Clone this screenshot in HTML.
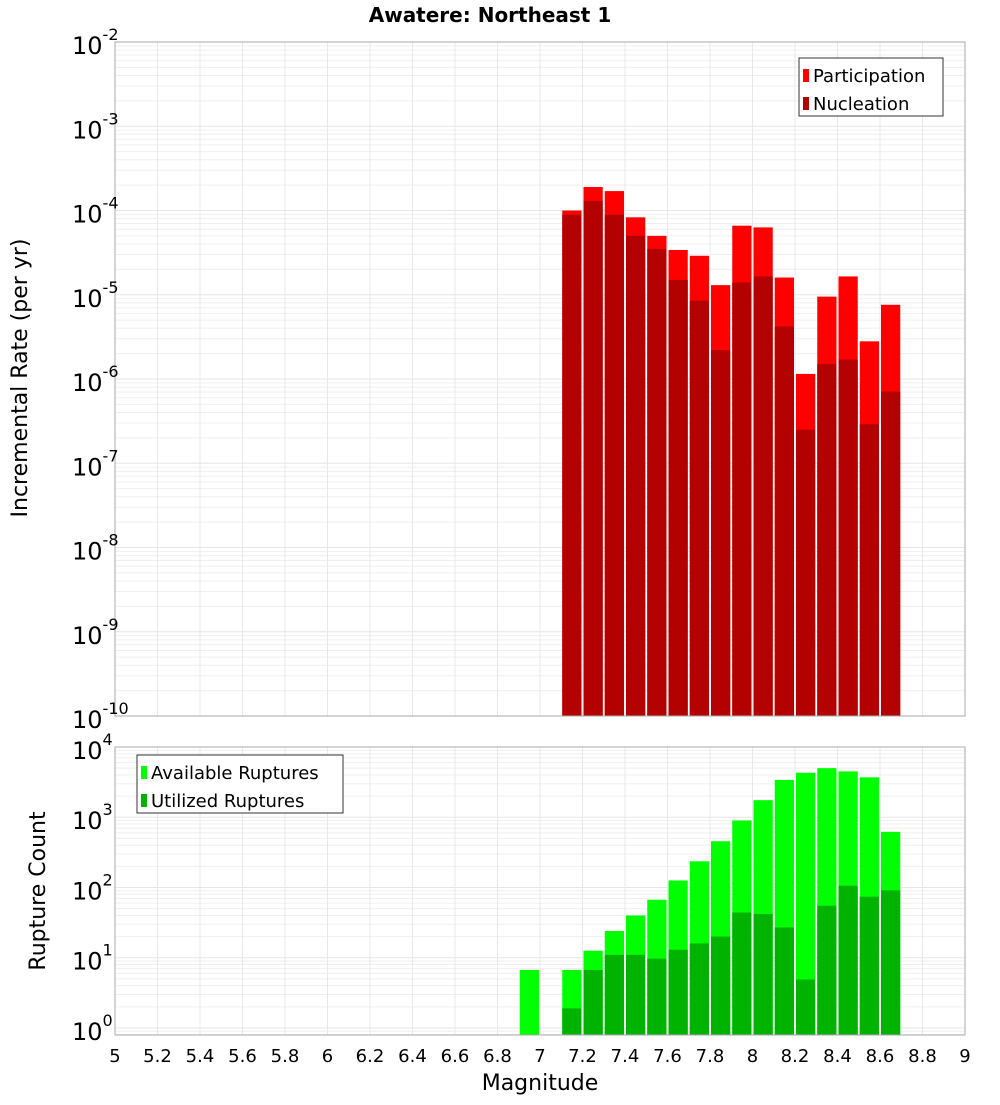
<!DOCTYPE html>
<html><head><meta charset="utf-8"><style>
body{margin:0;background:#fff;}
svg text{font-family:"DejaVu Sans","Liberation Sans",sans-serif;}
</style></head><body>
<svg id="chart" width="1000" height="1100" viewBox="0 0 1000 1100" xmlns="http://www.w3.org/2000/svg">
<text x="490" y="22" text-anchor="middle" font-size="20" font-weight="bold">Awatere: Northeast 1</text>
<g id="top"></g><g id="bot"></g>
<text transform="translate(27,378) rotate(-90)" text-anchor="middle" font-size="22">Incremental Rate (per yr)</text>
<text transform="translate(45,891) rotate(-90)" text-anchor="middle" font-size="22">Rupture Count</text>
<text x="540" y="1090" text-anchor="middle" font-size="22">Magnitude</text>
</svg>
<script>
const binStarts=[7.1,7.2,7.3,7.4,7.5,7.6,7.7,7.8,7.9,8.0,8.1,8.2,8.3,8.4,8.5,8.6];
const participation=[1.0e-4,1.9e-4,1.7e-4,8.3e-5,5e-5,3.4e-5,2.9e-5,1.3e-5,6.6e-5,6.3e-5,1.6e-5,1.15e-6,9.5e-6,1.65e-5,2.8e-6,7.6e-6];
const nucleation=[8.9e-5,1.3e-4,8.9e-5,5e-5,3.5e-5,1.5e-5,8.5e-6,2.2e-6,1.4e-5,1.65e-5,4.2e-6,2.5e-7,1.5e-6,1.7e-6,2.9e-7,7.1e-7];
const countBins=[6.9,7.1,7.2,7.3,7.4,7.5,7.6,7.7,7.8,7.9,8.0,8.1,8.2,8.3,8.4,8.5,8.6];
const available=[6.7,6.7,12.6,24,40,67,126,236,456,900,1750,3400,4300,5000,4500,3700,620];
const utilized=[0,1.9,6.7,11,11,9.7,13,16,20,44,42,27,4.9,55,106,74,91];
const xTicks=[5,5.2,5.4,5.6,5.8,6,6.2,6.4,6.6,6.8,7,7.2,7.4,7.6,7.8,8,8.2,8.4,8.6,8.8,9];
const topExps=[-2,-3,-4,-5,-6,-7,-8,-9,-10];
const botExps=[0,1,2,3,4];

const NS="http://www.w3.org/2000/svg";
const L=115,R=965;
const xs=m=>L+(m-5)/4*(R-L);
function mk(par,tag,attrs){const e=document.createElementNS(NS,tag);for(const k in attrs)e.setAttribute(k,attrs[k]);par.appendChild(e);return e;}
function panel(g,top,bot,lmin,lmax){
  const ys=v=>bot-(Math.log10(v)-lmin)/(lmax-lmin)*(bot-top);
  mk(g,'rect',{x:L,y:top,width:R-L,height:bot-top,fill:'#fff'});
  for(let d=Math.floor(lmin);d<lmax;d++)for(let k=1;k<10;k++){const v=k*Math.pow(10,d);const lv=Math.log10(v);if(lv<lmin||lv>lmax)continue;
    const y=ys(v);const ln=mk(g,'line',{x1:L,x2:R,y1:y,y2:y,stroke:k==1?'#e6e6e6':'#efefef','stroke-width':1});
    }
  xTicks.forEach(t=>{const x=xs(t);const ln=mk(g,'line',{x1:x,x2:x,y1:top,y2:bot,stroke:'#e8e8e8','stroke-width':1});
    });
  return ys;
}
function frame(g,top,bot){const r=mk(g,'rect',{x:L,y:top,width:R-L,height:bot-top,fill:'none',stroke:'#aaa','stroke-width':1});
  }
function ylab(g,y,e){const t=mk(g,'text',{x:72,y:y+12,'font-size':24});
  t.textContent='10';const s=mk(t,'tspan',{dy:-14,'font-size':16});s.textContent=String(e);}
function bar(g,m,v,ys,bot,fill,name){if(v<=0)return;const x0=xs(m),x1=xs(m+0.1);const y=ys(v);
  const r=mk(g,'rect',{x:x0+1,y:y,width:x1-x0-2,height:bot-y,fill:fill});}
function legend(g,x,y,w,items,name){const lg=mk(g,'g',{});
  mk(lg,'rect',{x:x,y:y,width:w,height:58,fill:'#fff',stroke:'#333','stroke-width':1});
  items.forEach((it,i)=>{mk(lg,'rect',{x:x+4,y:y+11+i*28,width:6,height:13,fill:it[1]});
    const t=mk(lg,'text',{x:x+14,y:y+24+i*28,'font-size':18});t.textContent=it[0];});}

// top panel
const gt=document.getElementById('top');const T1=42,B1=716;
const ys1=panel(gt,T1,B1,-10,-2);
binStarts.forEach((m,i)=>{bar(gt,m,participation[i],ys1,B1,'#ff0000','participation-bar');});
binStarts.forEach((m,i)=>{bar(gt,m,nucleation[i],ys1,B1,'#b30000','nucleation-bar');});
frame(gt,T1,B1);
topExps.forEach(e=>ylab(gt,ys1(Math.pow(10,e)),e));
legend(gt,799,58,144,[['Participation','#ff0000'],['Nucleation','#b30000']],'legend-top');

// bottom panel
const gb=document.getElementById('bot');const T2=747,B2=1035;
const ys2=panel(gb,T2,B2,-0.1,4.0);
countBins.forEach((m,i)=>{bar(gb,m,available[i],ys2,B2,'#00ff00','available-bar');});
countBins.forEach((m,i)=>{bar(gb,m,utilized[i],ys2,B2,'#00b300','utilized-bar');});
frame(gb,T2,B2);
botExps.forEach(e=>ylab(gb,ys2(Math.pow(10,e)),e));
legend(gb,137,755,206,[['Available Ruptures','#00ff00'],['Utilized Ruptures','#00b300']],'legend-bottom');
xTicks.forEach(t=>{const tx=mk(gb,'text',{x:xs(t),y:1062,'text-anchor':'middle','font-size':18});
  tx.textContent=String(t);});
</script>
</body></html>
